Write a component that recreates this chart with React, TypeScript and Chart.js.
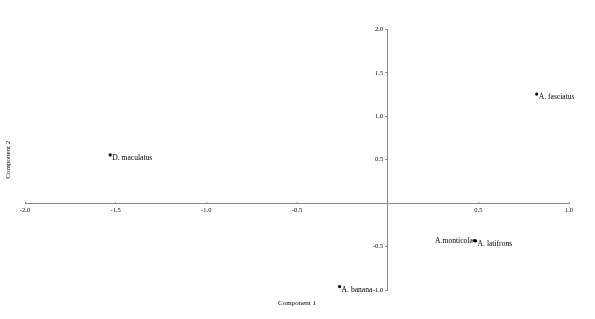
import React, { useEffect, useRef } from "react";
import { Chart, registerables } from "chart.js";

Chart.register(...registerables);

const speciesNames: string[] = ["A. fasciatus", "D. maculatus", "A.monticola", "A. latifrons", "A. banana"];
const component1: number[] = [0.822, -1.53, 0.478, 0.485, -0.265];
const component2: number[] = [1.256, 0.555, -0.43, -0.435, -0.96];
const xTickValues: number[] = [-2.0, -1.5, -1.0, -0.5, 0, 0.5, 1.0];
const yTickValues: number[] = [-1.0, -0.5, 0, 0.5, 1.0, 1.5, 2.0];

const SERIF = "'Liberation Serif', 'Times New Roman', serif";
const leftLabelled = new Set(["A.monticola"]);

const labelPlugin = {
  id: "pointLabels",
  afterDatasetsDraw(chart: any) {
    const meta = chart.getDatasetMeta(0);
    const ctx = chart.ctx;
    ctx.save();
    ctx.font = `7.6px ${SERIF}`;
    ctx.fillStyle = "#000";
    ctx.textBaseline = "middle";
    meta.data.forEach((pt: any, i: number) => {
      const name = speciesNames[i];
      if (leftLabelled.has(name)) {
        ctx.textAlign = "right";
        ctx.fillText(name, pt.x - 1.5, pt.y + 0.5);
      } else {
        ctx.textAlign = "left";
        ctx.fillText(name, pt.x + 2, pt.y + 3.2);
      }
    });
    ctx.restore();
  },
};

// centred y axis labels sit on the axis line by default: move them to its left
const yLabelShift = {
  id: "yLabelShift",
  beforeDraw(chart: any) {
    const s = chart.scales.y;
    if (!s) return;
    const items = s._computeLabelItems(chart.chartArea);
    items.forEach((it: any) => {
      it.options.translation[0] -= 4.5;
    });
    s._labelItems = items;
  },
};

const fmt = (v: number) => (v === 0 ? "" : v.toFixed(1));

export default function App() {
  const ref = useRef<HTMLCanvasElement | null>(null);
  useEffect(() => {
    document.body.style.margin = "0";
    const canvas = ref.current;
    if (!canvas) return;
    const axisColor = "#8a8a8a";
    const chart = new Chart(canvas, {
      type: "scatter",
      data: {
        datasets: [
          {
            data: component1.map((x, i) => ({ x, y: component2[i] })),
            pointRadius: 1.6,
            pointHoverRadius: 1.6,
            backgroundColor: "#000",
            borderColor: "#000",
            borderWidth: 0,
          },
        ],
      },
      options: {
        animation: false,
        responsive: false,
        events: [],
        layout: { padding: { top: 29.5, right: 26, bottom: 0, left: 0 } },
        plugins: { legend: { display: false }, tooltip: { enabled: false } },
        scales: {
          x: {
            type: "linear",
            position: { y: 0 } as any,
            min: -2,
            max: 1,
            afterFit: (s: any) => {
              s.height = 0;
            },
            afterBuildTicks: (s: any) => {
              s.ticks = xTickValues.map((v) => ({ value: v }));
            },
            ticks: {
              autoSkip: false,
              maxRotation: 0,
              padding: 5,
              color: "#000",
              font: { family: SERIF, size: 6.5 },
              callback: (v: any) => fmt(Number(v)),
            },
            grid: { drawOnChartArea: false, drawTicks: true, tickLength: -2, color: axisColor },
            border: { display: true, color: axisColor, width: 1 },
          },
          y: {
            type: "linear",
            position: { x: 0 } as any,
            min: -1,
            max: 2,
            afterFit: (s: any) => {
              s.width = 0;
            },
            afterBuildTicks: (s: any) => {
              s.ticks = yTickValues.map((v) => ({ value: v }));
            },
            ticks: {
              autoSkip: false,
              padding: 2,
              color: "#000",
              font: { family: SERIF, size: 6.5 },
              callback: (v: any) => fmt(Number(v)),
            },
            grid: { drawOnChartArea: false, drawTicks: true, tickLength: 2, color: axisColor },
            border: { display: true, color: axisColor, width: 1 },
          },
          x2: {
            type: "linear",
            position: "bottom",
            min: -2,
            max: 1,
            ticks: { display: false },
            grid: { display: false, drawTicks: false },
            border: { display: false },
            title: {
              display: true,
              text: "Component 1",
              color: "#000",
              font: { family: SERIF, size: 7, lineHeight: 1.2 },
              padding: { top: 8.8, bottom: 11.8 },
            },
          },
          y2: {
            type: "linear",
            position: "left",
            min: -1,
            max: 2,
            ticks: { display: false },
            grid: { display: false, drawTicks: false },
            border: { display: false },
            title: {
              display: true,
              text: "Component 2",
              color: "#000",
              font: { family: SERIF, size: 7, lineHeight: 1.2 },
              padding: { top: 3.8, bottom: 12.8 },
            },
          },
        },
      },
      plugins: [labelPlugin, yLabelShift],
    });
    return () => chart.destroy();
  }, []);
  return (
    <div style={{ width: 595, height: 319, background: "#fff" }}>
      <canvas ref={ref} width={595} height={319} />
    </div>
  );
}
